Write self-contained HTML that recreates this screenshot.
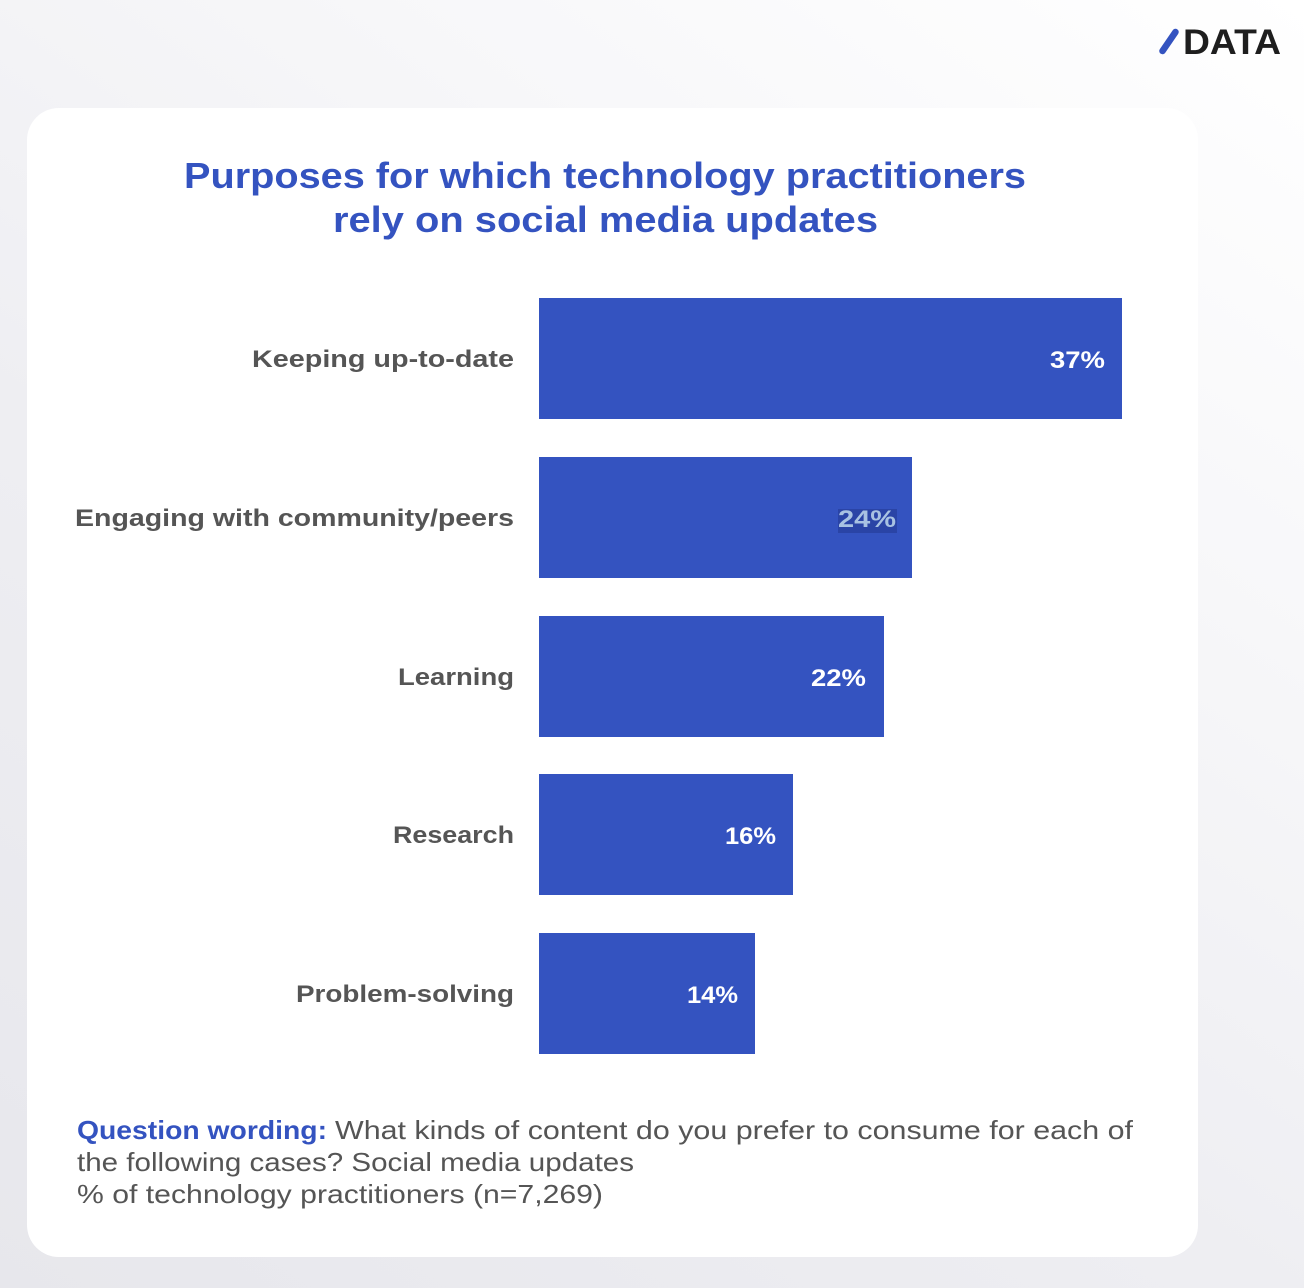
<!DOCTYPE html>
<html>
<head>
<meta charset="utf-8">
<style>
  html,body{margin:0;padding:0;}
  body{width:1304px;height:1288px;overflow:hidden;
    background:linear-gradient(35deg,#e7e7ec 0%,#eeeef2 40%,#f7f7f9 70%,#ffffff 100%);}
  svg{display:block;position:absolute;left:0;top:0;}
  text{font-family:"Liberation Sans",sans-serif;}
</style>
</head>
<body>
<svg width="1304" height="1288" viewBox="0 0 1304 1288" xmlns="http://www.w3.org/2000/svg">
  <!-- logo -->
  <line x1="1175.5" y1="32" x2="1162.5" y2="51" stroke="#3453c0" stroke-width="6.5" stroke-linecap="round"/>
  <text x="1183" y="54" font-size="35" font-weight="bold" fill="#1e1e1e" textLength="98" lengthAdjust="spacingAndGlyphs">DATA</text>

  <!-- card -->
  <rect x="27" y="108" width="1171" height="1149" rx="32" fill="#ffffff"/>

  <!-- title -->
  <text x="605" y="188" font-size="36" font-weight="bold" fill="#3453c0" text-anchor="middle" textLength="842" lengthAdjust="spacingAndGlyphs">Purposes for which technology practitioners</text>
  <text x="605.5" y="232" font-size="36" font-weight="bold" fill="#3453c0" text-anchor="middle" textLength="545" lengthAdjust="spacingAndGlyphs">rely on social media updates</text>

  <!-- bars -->
  <g fill="#3453c0">
    <rect x="539" y="298" width="583" height="121"/>
    <rect x="539" y="457" width="373" height="121"/>
    <rect x="539" y="616" width="345" height="121"/>
    <rect x="539" y="774" width="254" height="121"/>
    <rect x="539" y="933" width="216" height="121"/>
  </g>

  <!-- labels -->
  <g font-size="24" font-weight="bold" fill="#555555" text-anchor="end">
    <text x="514" y="367" textLength="262" lengthAdjust="spacingAndGlyphs">Keeping up-to-date</text>
    <text x="514" y="526" textLength="439" lengthAdjust="spacingAndGlyphs">Engaging with community/peers</text>
    <text x="514" y="685" textLength="116" lengthAdjust="spacingAndGlyphs">Learning</text>
    <text x="514" y="843" textLength="121" lengthAdjust="spacingAndGlyphs">Research</text>
    <text x="514" y="1002" textLength="218" lengthAdjust="spacingAndGlyphs">Problem-solving</text>
  </g>

  <!-- values -->
  <rect x="838" y="509" width="59" height="24" fill="#2a44a6"/>
  <g font-size="24" font-weight="bold" text-anchor="end">
    <text x="1105" y="368" fill="#ffffff" textLength="55" lengthAdjust="spacingAndGlyphs">37%</text>
    <text x="896" y="527" fill="#a8c2e2" textLength="58" lengthAdjust="spacingAndGlyphs">24%</text>
    <text x="866" y="686" fill="#ffffff" textLength="55" lengthAdjust="spacingAndGlyphs">22%</text>
    <text x="776" y="844" fill="#ffffff" textLength="51" lengthAdjust="spacingAndGlyphs">16%</text>
    <text x="738" y="1003" fill="#ffffff" textLength="51" lengthAdjust="spacingAndGlyphs">14%</text>
  </g>

  <!-- footer -->
  <g font-size="26" fill="#555555">
    <text x="77" y="1139"><tspan font-weight="bold" fill="#3453c0" textLength="250" lengthAdjust="spacingAndGlyphs">Question wording:</tspan></text>
    <text x="335" y="1139" textLength="798" lengthAdjust="spacingAndGlyphs">What kinds of content do you prefer to consume for each of</text>
    <text x="77" y="1171" textLength="557" lengthAdjust="spacingAndGlyphs">the following cases? Social media updates</text>
    <text x="77" y="1203" textLength="526" lengthAdjust="spacingAndGlyphs">% of technology practitioners (n=7,269)</text>
  </g>
</svg>
</body>
</html>
